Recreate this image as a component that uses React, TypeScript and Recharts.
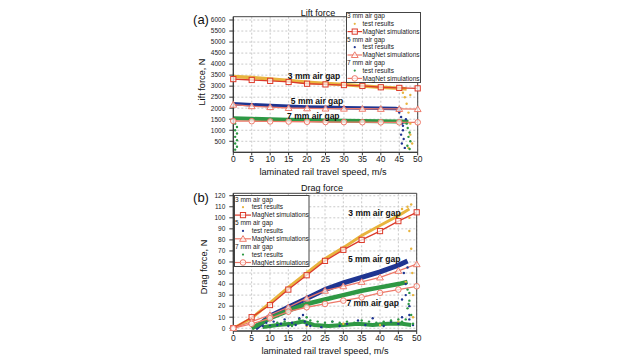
import {
  ComposedChart,
  Line,
  Scatter,
  XAxis,
  YAxis,
  CartesianGrid,
  ReferenceArea,
  ReferenceDot,
} from 'recharts'

const FONT = '"Liberation Sans", Arial, sans-serif'

// axes
const speedTicks = [0, 5, 10, 15, 20, 25, 30, 35, 40, 45, 50]
const liftTicks = [500, 1000, 1500, 2000, 2500, 3000, 3500, 4000, 4500, 5000, 5500, 6000]
const dragTicks = [0, 10, 20, 30, 40, 50, 60, 70, 80, 90, 100, 110, 120]

// MagNet simulations (every 5 m/s)
const simSpeeds = [0, 5, 10, 15, 20, 25, 30, 35, 40, 45, 50]
const lift3Sim = [3320, 3280, 3240, 3190, 3110, 3080, 3050, 3010, 2950, 2920, 2900]
const lift5Sim = [2160, 2090, 2050, 2010, 1995, 1985, 1980, 1975, 1970, 1965, 1960]
const lift7Sim = [1420, 1410, 1400, 1395, 1385, 1375, 1370, 1365, 1360, 1360, 1360]
const drag3Sim = [0, 10, 21, 35, 48, 61, 71, 80, 88, 97, 105]
const drag5Sim = [0, 6, 12, 19, 27, 34, 38, 42, 46, 52, 58]
const drag7Sim = [0, 4, 9, 15, 19, 22, 25, 28, 32, 35, 38]

// test results: dense band (speed, force)
const lift3Test = [[0, 3440], [5, 3390], [10, 3330], [15, 3260], [20, 3180], [25, 3120], [30, 3070], [35, 3010], [40, 2950], [45, 2900], [47, 2870]]
const lift5Test = [[0, 2200], [5, 2160], [10, 2120], [15, 2090], [20, 2060], [25, 2040], [30, 2020], [35, 2010], [40, 2000], [44, 1990], [45.5, 1950]]
const lift7Test = [[0, 1540], [5, 1520], [10, 1500], [15, 1480], [20, 1460], [25, 1445], [30, 1430], [35, 1420], [40, 1410], [45, 1400], [47.5, 1390]]
const drag3Test = [[0, 0], [5, 9], [10, 23], [15, 37], [20, 50], [25, 63], [30, 73], [35, 84], [40, 93], [45, 102], [47, 106], [48, 108]]
const drag5Test = [[6, 0], [10, 11], [15, 19], [20, 27], [25, 35], [30, 41], [35, 46], [40, 51], [45, 57], [47.5, 61]]
const drag7Test = [[5, 0], [10, 9], [15, 16], [20, 22], [25, 26], [30, 30], [35, 34], [40, 37], [45, 40], [47.5, 42]]
// low-level noise floor of the 7 mm drag readings
const drag7Floor = [[8, 1], [12, 3], [16, 4], [19, 6], [22, 3], [26, 2], [30, 3], [34, 4], [38, 3], [42, 4], [46, 4], [48.5, 3]]

// test results: stray points
const lift3Stray = [[46, 2700], [46.5, 2500], [47, 2200], [47.5, 1800], [48, 1300], [48, 800], [48.5, 400], [47.5, 200], [48, 2600]]
const lift5Stray = [[45, 1800], [45.5, 1600], [45.8, 1300], [46, 1000], [45.5, 800], [46.2, 600], [45.7, 400], [46.5, 200], [46, 1200], [46.8, 1500]]
const lift7Stray = [[47, 1300], [47.3, 1100], [47.8, 900], [47.5, 700], [48, 500], [47.2, 300], [47.8, 150], [0.5, 1300], [1, 1150], [0.5, 1000], [1, 850], [0.5, 700], [1, 550], [0.5, 400], [1, 250], [0.5, 120]]
const drag3Stray = [[47.5, 110], [48, 100], [48, 88], [48.5, 72], [48.8, 50], [49, 30], [49, 10], [20, 2], [30, 4], [40, 3], [45, 6], [47, 42], [46, 108], [48.5, 112]]
const drag5Stray = [[8, 2], [9, 5], [10, 2], [11, 6], [12, 3], [13, 4], [14, 8], [15, 2], [16, 5], [17, 3], [18, 9], [19, 12], [19.5, 6], [20, 3], [21, 2], [24, 1], [27, 6], [29, 2], [31, 4], [34, 7], [36, 3], [38, 9], [41, 2], [43, 6], [45, 4], [46, 10], [47, 40], [47, 30], [48, 20], [48, 12], [46.5, 50], [47.5, 55], [48, 8], [49, 3], [46, 26]]
const drag7Stray = [[10, 1], [12, 5], [14, 6], [16, 2], [18, 8], [20, 10], [21, 7], [23, 6], [25, 5], [27, 6], [29, 5], [31, 6], [33, 5], [35, 7], [37, 6], [39, 5], [41, 6], [43, 7], [45, 8], [46, 6], [47, 8], [47.5, 18], [48, 25], [48, 32], [48.5, 12], [49, 4], [47.5, 35], [47.8, 22]]

const gapLabels = ['3 mm air gap', '5 mm air gap', '7 mm air gap']
const testColors = ['#e8b43e', '#1f3591', '#2e9844']
const simColors = ['#dc3b2b', '#ee7a6a', '#ee7a6a']
const markerShapes = ['square', 'triangle', 'circle']

const toPts = (pairs: number[][]) => pairs.map(([x, y]) => ({ x, y }))
const simPts = (vals: number[]) => simSpeeds.map((x, i) => ({ x, y: vals[i] }))

function Marker({ kind, cx, cy, color }: any) {
  if (cx == null || cy == null) return null
  if (kind === 'square')
    return <rect x={cx - 2.6} y={cy - 2.6} width={5.2} height={5.2} fill="#fff" fillOpacity={0.7} stroke={color} strokeWidth={1} />
  if (kind === 'triangle')
    return (
      <polygon
        points={`${cx},${cy - 3.2} ${cx - 3.4},${cy + 2.5} ${cx + 3.4},${cy + 2.5}`}
        fill="#fff"
        fillOpacity={0.7}
        stroke={color}
        strokeWidth={1}
      />
    )
  return <circle cx={cx} cy={cy} r={2.8} fill="#fff" fillOpacity={0.7} stroke={color} strokeWidth={1} />
}

const dotFn = (kind: string, color: string) => (p: any) => (
  <Marker key={`${kind}-${p.index}`} kind={kind} cx={p.cx} cy={p.cy} color={color} />
)

const strayShape = (color: string) => (p: any) => <circle cx={p.cx} cy={p.cy} r={1.2} fill={color} />

function LegendBox({ left, top, width, height, first, rowH, lineX0, lineX1, textX }: any) {
  const mid = (lineX0 + lineX1) / 2
  return (
    <svg style={{ position: 'absolute', left, top }} width={width} height={height}>
      <rect x={0.5} y={0.5} width={width - 1} height={height - 1} fill="#fff" stroke="#444" strokeWidth={1} />
      {gapLabels.map((g, i) => {
        const y0 = first + i * 3 * rowH
        const ts = { fontSize: 6.5, fontFamily: FONT, fill: '#222' }
        return (
          <g key={g}>
            <text x={1} y={y0} dy="0.35em" {...ts}>{g}</text>
            <circle cx={mid} cy={y0 + rowH} r={1.1} fill={testColors[i]} />
            <text x={textX} y={y0 + rowH} dy="0.35em" {...ts}>test results</text>
            <line x1={lineX0} x2={lineX1} y1={y0 + 2 * rowH} y2={y0 + 2 * rowH} stroke={simColors[i]} strokeWidth={1.2} />
            <Marker kind={markerShapes[i]} cx={mid} cy={y0 + 2 * rowH} color={simColors[i]} />
            <text x={textX} y={y0 + 2 * rowH} dy="0.35em" {...ts}>MagNet simulations</text>
          </g>
        )
      })}
    </svg>
  )
}

function Txt({ x, y, size, children, rotate }: any) {
  return (
    <div
      style={{
        position: 'absolute',
        left: x,
        top: y,
        transform: `translate(-50%, -50%)${rotate ? ' rotate(-90deg)' : ''}`,
        fontSize: size,
        lineHeight: 1,
        whiteSpace: 'nowrap',
        color: '#111',
        fontFamily: FONT,
      }}
    >
      {children}
    </div>
  )
}

const tickX = { fontSize: 8.5, fill: '#222', fontFamily: FONT }
const tickY = { fontSize: 6.5, fill: '#222', fontFamily: FONT }

function ForceChart({ top, height, margin, yDomain, yTicks, tests, floors, strays, sims, notes, bandWidths }: any) {
  return (
    <div style={{ position: 'absolute', left: 0, top }}>
      <ComposedChart width={640} height={height} margin={margin}>
        <CartesianGrid stroke="#c9c9c9" strokeDasharray="2 2" horizontalValues={yTicks} verticalValues={speedTicks} />
        <XAxis
          dataKey="x"
          type="number"
          domain={[0, 50]}
          ticks={speedTicks}
          interval={0}
          height={20}
          tick={tickX}
          tickSize={3}
          tickMargin={1}
          stroke="#333"
        />
        <YAxis
          type="number"
          domain={yDomain}
          ticks={yTicks}
          interval={0}
          width={40}
          tick={tickY}
          tickSize={4}
          tickMargin={4}
          stroke="#333"
          allowDataOverflow
        />
        <ReferenceArea x1={0} x2={50} y1={yDomain[0]} y2={yDomain[1]} fill="none" stroke="#444" strokeWidth={1} />
        {floors.map((f: any, i: number) => (
          <Line
            key={`f${i}`}
            data={toPts(f.pts)}
            dataKey="y"
            stroke={testColors[f.gap]}
            strokeWidth={4}
            dot={false}
            isAnimationActive={false}
          />
        ))}
        {tests.map((t: number[][], i: number) => (
          <Line
            key={`t${i}`}
            data={toPts(t)}
            dataKey="y"
            stroke={testColors[i]}
            strokeWidth={bandWidths[i]}
            dot={false}
            isAnimationActive={false}
          />
        ))}
        {strays.map((s: number[][], i: number) => (
          <Scatter key={`s${i}`} data={toPts(s)} dataKey="y" shape={strayShape(testColors[i])} isAnimationActive={false} />
        ))}
        {sims.map((v: number[], i: number) => (
          <Line
            key={`m${i}`}
            data={simPts(v)}
            dataKey="y"
            stroke={simColors[i]}
            strokeWidth={1.3}
            dot={dotFn(markerShapes[i], simColors[i])}
            isAnimationActive={false}
          />
        ))}
        {notes.map((n: number[], i: number) => (
          <ReferenceDot
            key={`n${i}`}
            x={n[0]}
            y={n[1]}
            r={0}
            fill="none"
            stroke="none"
            label={{ value: gapLabels[i], position: 'center', fill: '#111', fontSize: 8.5, fontWeight: 700, fontFamily: FONT }}
          />
        ))}
      </ComposedChart>
    </div>
  )
}

export default function App() {
  return (
    <div style={{ position: 'absolute', left: 0, top: 0, width: 640, height: 360, background: '#fff', overflow: 'hidden', fontFamily: FONT }}>
      <ForceChart
        top={0}
        height={180}
        margin={{ top: 16.7, right: 222.3, bottom: 7.7, left: 193.3 }}
        yDomain={[0, 6150]}
        yTicks={liftTicks}
        tests={[lift3Test, lift5Test, lift7Test]}
        floors={[]}
        strays={[lift3Stray, lift5Stray, lift7Stray]}
        sims={[lift3Sim, lift5Sim, lift7Sim]}
        notes={[[21.9, 3480], [22.7, 2350], [21.7, 1630]]}
        bandWidths={[3.5, 3.5, 4]}
      />
      <ForceChart
        top={170}
        height={190}
        margin={{ top: 23.3, right: 223.3, bottom: 9, left: 193.3 }}
        yDomain={[-2.5, 122.2]}
        yTicks={dragTicks}
        tests={[drag3Test, drag5Test, drag7Test]}
        floors={[{ gap: 2, pts: drag7Floor }]}
        strays={[drag3Stray, drag5Stray, drag7Stray]}
        sims={[drag3Sim, drag5Sim, drag7Sim]}
        notes={[[38.5, 104], [38.4, 62.4], [38, 22.6]]}
        bandWidths={[3, 5, 4.5]}
      />
      <LegendBox left={346} top={12} width={75} height={71} first={4} rowH={7.8} lineX0={1.5} lineX1={16} textX={16.5} />
      <LegendBox left={234} top={195} width={75.5} height={72} first={4.3} rowH={7.9} lineX0={1} lineX1={17} textX={17.7} />
      <Txt x={201} y={19} size={13}>(a)</Txt>
      <Txt x={318} y={13.3} size={9}>Lift force</Txt>
      <Txt x={203} y={82} size={9.2} rotate>Lift force, N</Txt>
      <Txt x={323} y={173.3} size={9.2}>laminated rail travel speed, m/s</Txt>
      <Txt x={201} y={197} size={13}>(b)</Txt>
      <Txt x={322} y={188} size={9}>Drag force</Txt>
      <Txt x={205} y={267} size={9.2} rotate>Drag force, N</Txt>
      <Txt x={325} y={351.7} size={9.2}>laminated rail travel speed, m/s</Txt>
    </div>
  )
}
